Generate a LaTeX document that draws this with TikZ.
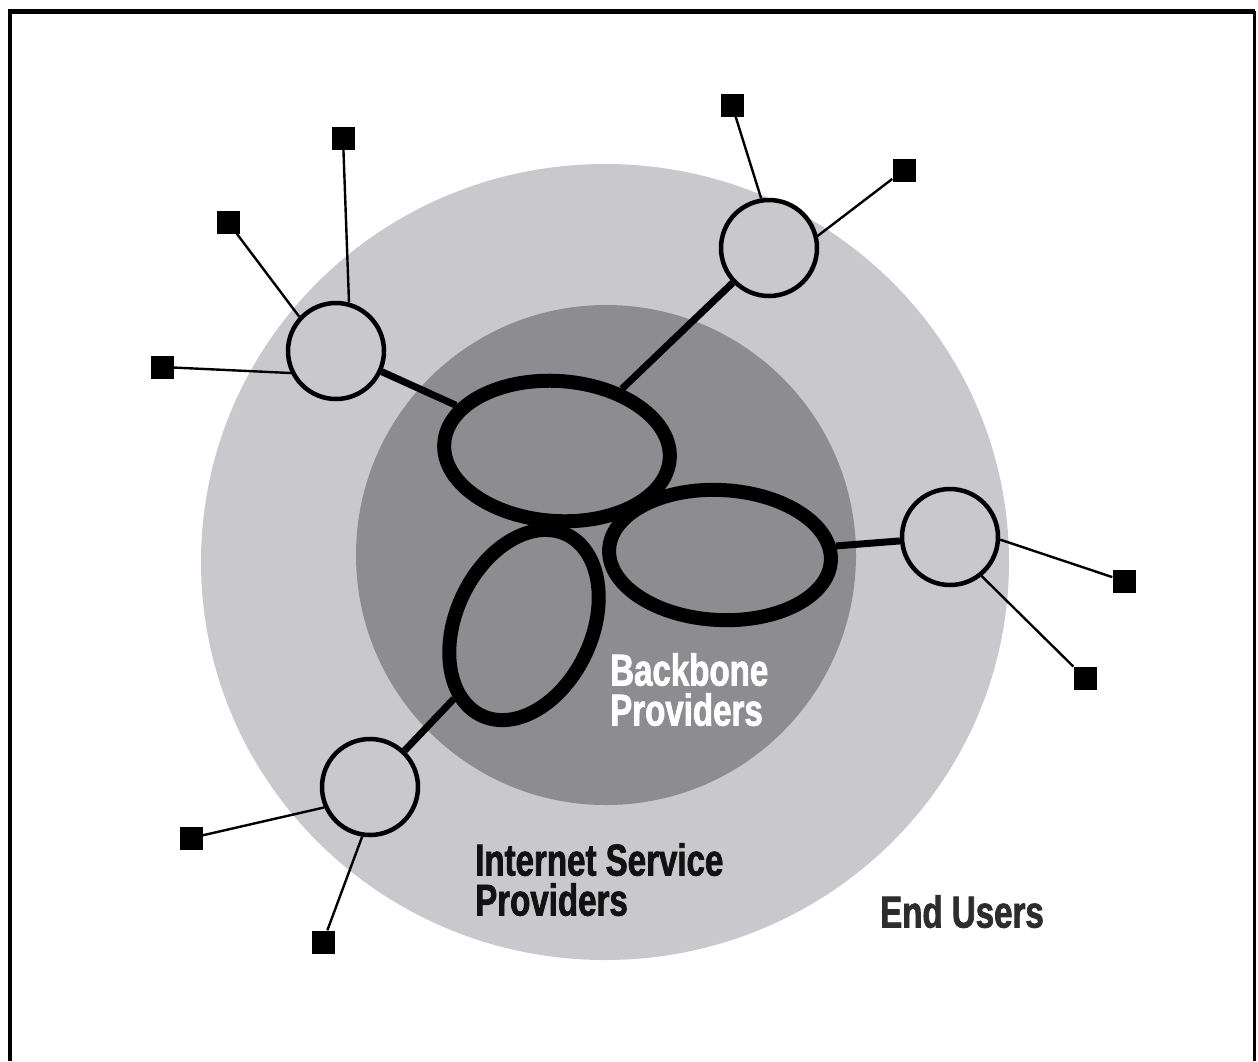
\documentclass[tikz,border=0pt]{standalone}
\usepackage{fontspec}
\newfontfamily\labelfont{Liberation Sans}[FakeStretch=0.74, BoldFeatures={FakeBold=1.6}]
\usetikzlibrary{shapes.geometric}
\definecolor{outergray}{RGB}{201,201,205}
\definecolor{innergray}{RGB}{141,141,145}
\definecolor{enduser}{RGB}{45,45,45}
\definecolor{ispblack}{RGB}{18,18,18}
\begin{document}
\begin{tikzpicture}[x=1pt,y=-1pt,
  isp/.style={circle, draw=black, line width=4.5pt, fill=outergray, inner sep=0pt, minimum size=96pt},
  user/.style={rectangle, fill=black, inner sep=0pt, minimum size=23pt},
  bb/.style={ellipse, draw=black, line width=14pt, inner sep=0pt},
  wire/.style={line width=2.4pt},
  trunk/.style={line width=7pt},
  lbl/.style={font=\labelfont\bfseries\fontsize{44.7}{40}\selectfont, align=left, inner sep=0pt, anchor=north west}]
\useasboundingbox (0,0) rectangle (1258,1061);
\fill[white] (0,0) rectangle (1258,1061);
% zones
\fill[outergray] (605,562) ellipse [x radius=404, y radius=398];
\fill[innergray] (606,555) circle (250);
% frame
\draw[line width=4.5pt] (10,1061) -- (10,11.3) -- (1254.5,11.3);
\draw[line width=3pt] (1254.5,11.3) -- (1254.5,1061);
% backbone ellipses
\node[bb, minimum width=226pt, minimum height=140pt, rotate=-4] (te) at (557,451) {};
\node[bb, minimum width=222pt, minimum height=130pt, rotate=-3] (re) at (720,555) {};
\node[bb, minimum width=200pt, minimum height=136pt, rotate=65] (be) at (524,625) {};
% ISP circles
\node[isp] (u1) at (336,351) {};
\node[isp] (t1) at (769,248) {};
\node[isp] (r1) at (950,537) {};
\node[isp] (b1) at (370,787) {};
% end users
\node[user] (s1) at (343,138) {};
\node[user] (s2) at (228,222) {};
\node[user] (s3) at (162,367) {};
\node[user] (s4) at (732,105) {};
\node[user] (s5) at (904,170) {};
\node[user] (s6) at (1124,581) {};
\node[user] (s7) at (1085,678) {};
\node[user] (s8) at (191,838) {};
\node[user] (s9) at (323,942) {};
% thin links
\draw[wire] (s1) -- (u1.75);
\draw[wire] (s2) -- (u1.137);
\draw[wire] (s3) -- (u1.206);
\draw[wire] (s4) -- (t1.99);
\draw[wire] (s5) -- (t1.14);
\draw[wire] (s6) -- (r1.-3);
\draw[wire] (s7) -- (r1.-51);
\draw[wire] (s8) -- (b1.204);
\draw[wire] (s9) -- (b1.261);
% trunk links
\draw[trunk] (u1) -- (te);
\draw[trunk] (t1) -- (te);
\draw[trunk] (r1) -- (re);
\draw[trunk] (b1) -- (be);
% labels
\node[lbl, text=white] (lbb) at (610,653) {Backbone\\Providers};
\node[lbl, text=ispblack] (lisp) at (475,843) {Internet Service\\Providers};
\node[lbl, text=enduser] (leu) at (880,895) {End Users};
\end{tikzpicture}
\end{document}
